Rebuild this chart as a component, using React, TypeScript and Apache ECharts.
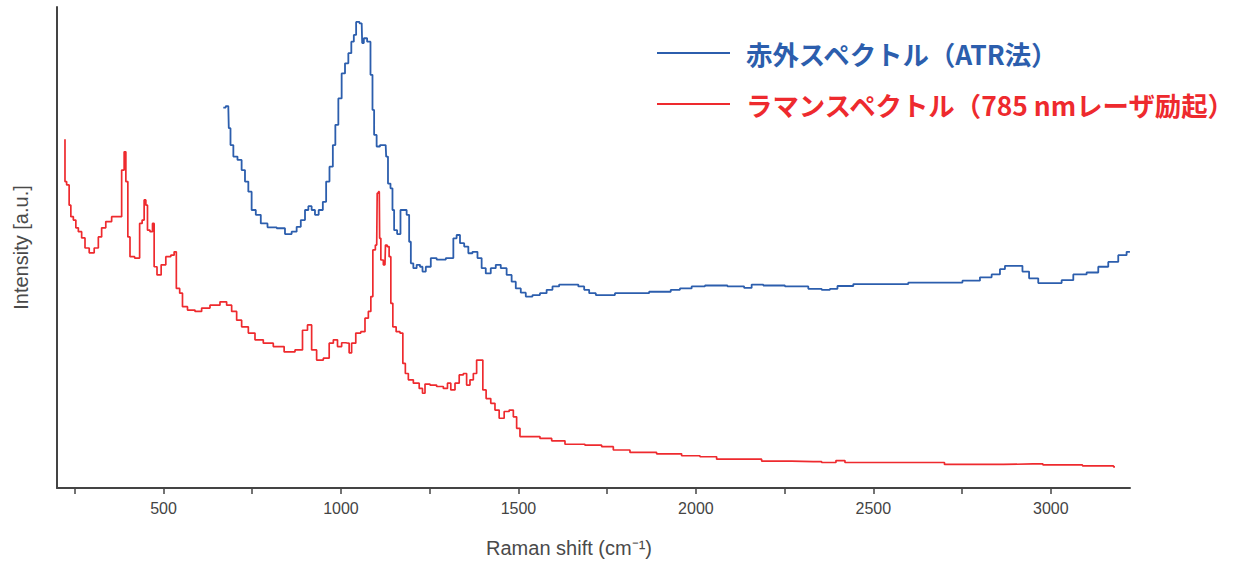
import React, { useEffect, useRef } from "react";
import * as echarts from "echarts";

// Raman spectrum (785 nm excitation): Raman shift (cm-1) and intensity (a.u.)
const ramanShift = [
  222.5, 222.5, 231.8, 236.6, 241.4, 250.7, 255.5, 264.8, 274.1, 283.7, 297.8, 311.8, 321.1, 330.4, 344.5, 363.4, 377.5,
  386.8, 391.6, 396.4, 402.8, 408.5, 429.0, 436.6, 443.1, 447.9, 452.7, 457.2, 466.8, 471.3, 476.1, 487.4, 499.5, 513.6,
  527.6, 532.4, 540.0, 551.3, 555.8, 579.5, 598.1, 616.9, 645.1, 673.3, 682.6, 701.5, 710.8, 729.6, 748.5, 767.1, 795.3,
  823.4, 856.4, 884.6, 898.7, 912.8, 922.0, 940.9, 959.8, 973.9, 983.2, 997.3, 1006.6, 1020.7, 1025.4, 1034.7, 1048.8,
  1062.9, 1072.5, 1081.8, 1086.6, 1093.1, 1100.7, 1103.5, 1108.0, 1110.0, 1114.8, 1124.0, 1126.8, 1133.3, 1138.1, 1142.9,
  1149.4, 1161.5, 1171.1, 1177.6, 1185.2, 1194.5, 1213.4, 1227.5, 1232.0, 1241.6, 1260.1, 1279.0, 1297.9, 1302.4, 1316.5,
  1326.1, 1340.2, 1349.4, 1358.7, 1368.3, 1377.6, 1386.9, 1396.5, 1402.9, 1415.0, 1429.1, 1438.7, 1452.8, 1466.9, 1481.0,
  1490.3, 1499.6, 1509.1, 1541.8, 1579.6, 1607.8, 1654.5, 1720.4, 1748.6, 1786.1, 1842.4, 1936.2, 1983.3, 2039.7, 2077.1,
  2161.6, 2208.7, 2330.7, 2377.7, 2411.5, 2428.4, 2617.2, 2783.4, 2949.6, 3006.0, 3172.2, 3180.6,
];
const ramanIntensity = [
  72.5, 63.7, 63.0, 58.8, 56.4, 55.7, 54.1, 53.3, 52.0, 49.9, 48.9, 49.9, 52.2, 54.1, 55.4, 56.4, 56.4,
  66.1, 69.9, 63.7, 52.2, 48.1, 47.8, 55.0, 55.7, 59.9, 58.8, 53.6, 53.3, 55.0, 46.0, 44.3, 46.4, 48.1,
  48.4, 49.1, 41.5, 40.5, 37.7, 37.0, 36.7, 37.4, 38.0, 38.7, 38.0, 36.7, 34.9, 33.5, 32.2, 30.8, 30.1,
  29.4, 28.3, 28.7, 32.8, 33.9, 28.7, 26.6, 27.0, 30.1, 30.8, 29.4, 30.2, 30.1, 28.1, 30.1, 32.2,
  32.5, 35.3, 36.7, 39.8, 49.5, 50.5, 61.3, 61.6, 51.9, 47.4, 46.4, 50.5, 50.2, 48.1, 38.4,
  33.5, 32.5, 32.2, 25.9, 23.8, 22.5, 21.8, 20.7, 19.7, 21.6, 21.4, 21.1, 20.7, 21.8, 20.4,
  21.8, 23.5, 23.8, 21.4, 22.5, 23.8, 26.6, 26.6, 20.4, 18.6, 17.6, 16.2, 14.5, 15.9, 16.2,
  14.8, 12.4, 10.7, 10.7, 10.3, 9.8, 9.1, 8.9, 8.6, 7.9, 7.4, 7.1, 6.7, 6.5, 6.0,
  6.0, 5.6, 5.5, 5.3, 5.7, 5.3, 5.3, 4.9, 5.0, 4.8, 4.6, 4.4,
];

// Infrared spectrum (ATR): wavenumber (cm-1) and intensity (a.u.)
const irShift = [
  668.5, 682.6, 685.4, 692.2, 701.5, 715.5, 724.8, 734.4, 743.7, 753.0, 767.1, 781.2, 804.9, 833.0, 851.6, 870.5,
  879.8, 893.9, 903.5, 912.8, 922.0, 931.6, 942.9, 955.0, 961.5, 973.9, 980.4, 988.0, 997.3, 1006.6, 1016.2, 1025.4,
  1033.0, 1039.5, 1046.0, 1058.4, 1061.2, 1067.7, 1079.8, 1086.6, 1091.1, 1095.8, 1105.2, 1114.8, 1126.0, 1128.8,
  1136.2, 1142.9, 1147.4, 1152.2, 1164.3, 1171.1, 1180.4, 1189.7, 1194.5, 1199.3, 1208.6, 1217.9, 1227.5, 1232.0,
  1246.1, 1260.1, 1279.0, 1312.0, 1321.3, 1330.5, 1340.2, 1354.2, 1363.5, 1377.6, 1391.7, 1401.0, 1415.0, 1429.1,
  1443.2, 1457.3, 1476.2, 1485.5, 1499.6, 1513.7, 1527.8, 1551.4, 1570.0, 1588.9, 1603.0, 1626.4, 1659.3, 1678.2,
  1692.3, 1706.3, 1729.7, 1814.2, 1922.1, 1936.2, 1973.9, 2002.1, 2048.9, 2128.9, 2143.0, 2171.1, 2208.7, 2293.2,
  2340.2, 2368.4, 2387.0, 2410.7, 2476.3, 2720.5, 2781.4, 2819.1, 2847.3, 2865.9, 2875.5, 2913.0, 2927.0, 2950.4,
  2978.6, 3016.3, 3044.5, 3082.0, 3119.5, 3147.7, 3175.8, 3204.0, 3222.8,
];
const irIntensity = [
  79.1, 79.4, 74.8, 71.3, 68.9, 68.2, 66.1, 63.7, 61.6, 57.8, 56.8, 55.0, 54.2, 54.0, 52.8, 53.3,
  54.3, 55.7, 57.8, 58.6, 57.8, 56.8, 57.8, 59.5, 63.7, 66.8, 71.3, 75.5, 81.0, 86.2, 88.3, 90.4,
  92.8, 94.2, 96.9, 96.6, 92.5, 93.5, 92.8, 85.9, 78.6, 73.4, 71.0, 71.3, 71.3, 68.9,
  63.3, 62.3, 57.8, 53.6, 52.8, 57.8, 57.8, 56.8, 51.2, 46.7, 45.7, 46.4, 46.0, 45.0,
  46.0, 47.8, 47.5, 47.8, 51.9, 52.6, 50.9, 50.2, 48.8, 49.1, 47.8, 45.7, 44.6, 45.7,
  46.4, 45.7, 44.3, 42.9, 41.5, 40.6, 39.8, 40.1, 40.5, 41.2, 41.9, 42.3, 42.3, 41.9,
  41.2, 40.5, 40.1, 40.5, 40.8, 41.2, 41.5, 41.9, 42.1, 41.9, 41.6, 42.3, 42.1, 41.9,
  41.4, 41.2, 41.4, 42.0, 42.4, 42.7, 43.1, 43.8, 44.4, 45.5, 46.2, 46.2, 45.0, 43.6,
  42.6, 42.6, 43.2, 44.4, 44.8, 46.0, 47.0, 48.4, 49.1,
];

const tickValues = [250, 500, 750, 1000, 1250, 1500, 1750, 2000, 2250, 2500, 2750, 3000];
const labelValues = [500, 1000, 1500, 2000, 2500, 3000];

const irName = "赤外スペクトル（ATR法）";
const ramanName = "ラマンスペクトル（785 nmレーザ励起）";

const BLUE = "#2c5ead";
const RED = "#ee2a2e";
const AXIS = "#444444";
const SANS = "'Liberation Sans', Arial, Helvetica, sans-serif";

export default function App() {
  const ref = useRef<HTMLDivElement>(null);

  useEffect(() => {
    document.body.style.margin = "0";
    if (!ref.current) return;
    const chart = echarts.init(ref.current, undefined, { renderer: "svg" });
    const irData = irShift.map((x, i) => [x, irIntensity[i]]);
    const ramanData = ramanShift.map((x, i) => [x, ramanIntensity[i]]);
    chart.setOption({
      animation: false,
      backgroundColor: "#ffffff",
      grid: { left: 57, right: 107, top: 7, bottom: 76, containLabel: false },
      legend: {
        orient: "vertical",
        left: 652,
        top: 32,
        padding: 5,
        itemWidth: 73,
        itemHeight: 2,
        itemGap: 19,
        icon: "rect",
        textStyle: {
          fontSize: 26.4,
          fontWeight: "bold",
          fontFamily: "'Noto Sans CJK JP', 'Liberation Sans', sans-serif",
          lineHeight: 32,
          padding: [0, 0, 0, 11],
        },
        data: [
          { name: irName, textStyle: { color: BLUE } },
          { name: ramanName, textStyle: { color: RED } },
        ],
      },
      xAxis: {
        type: "value",
        min: 200,
        max: 3223,
        name: "Raman shift (cm⁻¹)",
        nameLocation: "middle",
        nameGap: 50,
        nameTextStyle: {
          fontSize: 20,
          color: "#4a4a4a",
          fontFamily: SANS,
          padding: [0, 49, 0, 0],
        },
        axisLine: { show: true, lineStyle: { color: AXIS, width: 2 } },
        axisTick: {
          show: true,
          inside: false,
          length: 6,
          lineStyle: { color: AXIS, width: 1.5 },
          customValues: tickValues,
        },
        axisLabel: {
          show: true,
          margin: 12,
          fontSize: 16,
          color: "#444",
          fontFamily: SANS,
          customValues: labelValues,
          formatter: (v: number) => String(v),
        },
        splitLine: { show: false },
      },
      yAxis: {
        type: "value",
        min: 0,
        max: 100,
        name: "Intensity [a.u.]",
        nameLocation: "middle",
        nameGap: 26,
        nameTextStyle: {
          fontSize: 20,
          color: "#4a4a4a",
          fontFamily: SANS,
        },
        axisLine: { show: true, lineStyle: { color: AXIS, width: 2 } },
        axisTick: { show: false },
        axisLabel: { show: false },
        splitLine: { show: false },
      },
      series: [
        {
          name: irName,
          type: "line",
          data: irData,
          step: "middle",
          showSymbol: false,
          symbol: "none",
          color: BLUE,
          lineStyle: { color: BLUE, width: 1.8 },
        },
        {
          name: ramanName,
          type: "line",
          data: ramanData,
          step: "middle",
          showSymbol: false,
          symbol: "none",
          color: RED,
          lineStyle: { color: RED, width: 1.7 },
        },
      ],
    });
    return () => chart.dispose();
  }, []);

  return <div ref={ref} style={{ width: 1237, height: 564 }} />;
}
